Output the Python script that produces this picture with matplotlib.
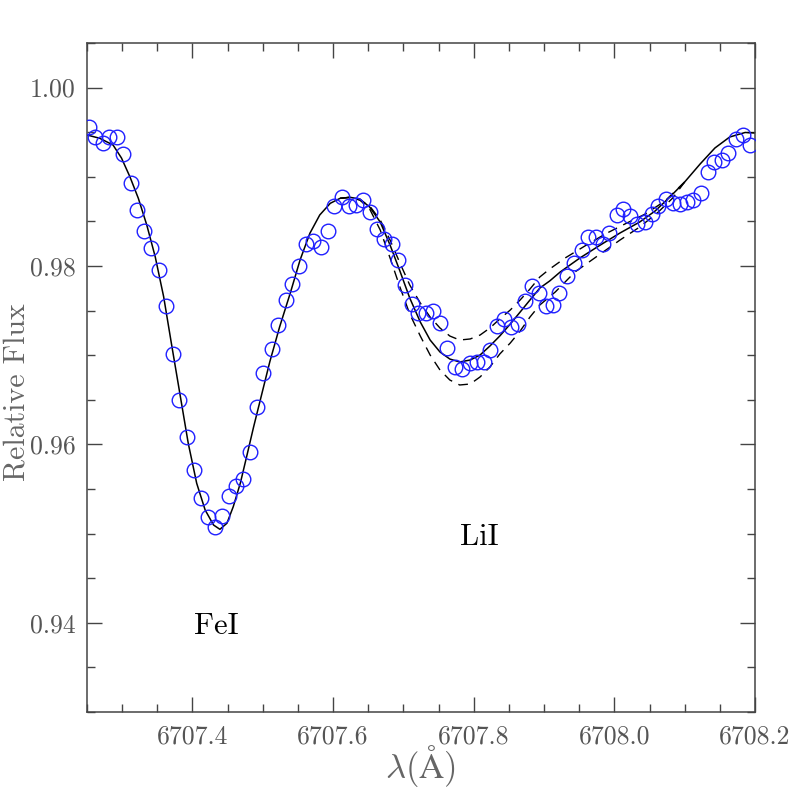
import matplotlib
matplotlib.use("Agg")
import matplotlib.pyplot as plt
from matplotlib.ticker import FixedLocator, MultipleLocator, FixedFormatter

# ---- observed spectrum (circles) ----
obs_wave = [6707.2533, 6707.2614, 6707.2723, 6707.2817, 6707.2922, 6707.3016, 6707.3122,
            6707.3215, 6707.3315, 6707.3415, 6707.3520, 6707.3624, 6707.3727, 6707.3813,
            6707.3918, 6707.4017, 6707.4117, 6707.4221, 6707.4320, 6707.4420, 6707.4524,
            6707.4619, 6707.4723, 6707.4822, 6707.4914, 6707.5003, 6707.5127, 6707.5221,
            6707.5326, 6707.5420, 6707.5519, 6707.5615, 6707.5718, 6707.5828, 6707.5932,
            6707.6017, 6707.6120, 6707.6226, 6707.6326, 6707.6430, 6707.6525, 6707.6620,
            6707.6728, 6707.6833, 6707.6919, 6707.7023, 6707.7126, 6707.7212, 6707.7317,
            6707.7425, 6707.7520, 6707.7616, 6707.7734, 6707.7838, 6707.7947, 6707.8051,
            6707.8146, 6707.8231, 6707.8327, 6707.8431, 6707.8530, 6707.8634, 6707.8729,
            6707.8824, 6707.8931, 6707.9031, 6707.9132, 6707.9217, 6707.9331, 6707.9426,
            6707.9536, 6707.9629, 6707.9739, 6707.9834, 6707.9928, 6708.0033, 6708.0127,
            6708.0223, 6708.0326, 6708.0436, 6708.0531, 6708.0625, 6708.0730, 6708.0830,
            6708.0934, 6708.1029, 6708.1123, 6708.1228, 6708.1328, 6708.1417, 6708.1527,
            6708.1621, 6708.1730, 6708.1825, 6708.1929]
obs_flux = [0.99555, 0.99443, 0.99382, 0.99450, 0.99450, 0.99259, 0.98934,
            0.98628, 0.98396, 0.98202, 0.97955, 0.97552, 0.97013, 0.96501,
            0.96080, 0.95710, 0.95402, 0.95189, 0.95077, 0.95197, 0.95421,
            0.95534, 0.95609, 0.95918, 0.96416, 0.96806, 0.97069, 0.97342,
            0.97619, 0.97802, 0.97997, 0.98243, 0.98280, 0.98216, 0.98389,
            0.98669, 0.98770, 0.98673, 0.98684, 0.98740, 0.98609, 0.98411,
            0.98306, 0.98247, 0.98067, 0.97790, 0.97574, 0.97470, 0.97470,
            0.97499, 0.97358, 0.97077, 0.96871, 0.96845, 0.96916, 0.96927,
            0.96927, 0.97058, 0.97331, 0.97402, 0.97319, 0.97350, 0.97608,
            0.97776, 0.97694, 0.97557, 0.97563, 0.97701, 0.97891, 0.98037,
            0.98179, 0.98328, 0.98328, 0.98247, 0.98367, 0.98572, 0.98636,
            0.98560, 0.98471, 0.98497, 0.98583, 0.98673, 0.98751, 0.98710,
            0.98692, 0.98721, 0.98740, 0.98822, 0.99050, 0.99169, 0.99188,
            0.99270, 0.99420, 0.99469, 0.99356]

# ---- best-fit synthetic spectrum (solid) ----
fit_wave = [6707.250, 6707.268, 6707.287, 6707.299, 6707.311, 6707.323, 6707.335,
            6707.347, 6707.359, 6707.370, 6707.382, 6707.394, 6707.406, 6707.418,
            6707.430, 6707.439, 6707.449, 6707.458, 6707.468, 6707.477, 6707.487,
            6707.500, 6707.510, 6707.524, 6707.539, 6707.553, 6707.567, 6707.581,
            6707.596, 6707.610, 6707.624, 6707.638, 6707.652, 6707.667, 6707.681,
            6707.695, 6707.709, 6707.724, 6707.738, 6707.752, 6707.766, 6707.780,
            6707.795, 6707.809, 6707.823, 6707.837, 6707.852, 6707.866, 6707.880,
            6707.894, 6707.908, 6707.923, 6707.951, 6707.980, 6708.008, 6708.036,
            6708.058, 6708.079, 6708.100, 6708.122, 6708.143, 6708.164, 6708.186,
            6708.200]
fit_flux = [0.99469, 0.99432, 0.99357, 0.99211, 0.99001, 0.98759, 0.98460,
            0.98104, 0.97656, 0.97133, 0.96573, 0.96012, 0.95564, 0.95265,
            0.95096, 0.95048, 0.95116, 0.95302, 0.95564, 0.95862, 0.96198,
            0.96610, 0.96927, 0.97319, 0.97694, 0.98067, 0.98367, 0.98572,
            0.98703, 0.98759, 0.98770, 0.98751, 0.98661, 0.98493, 0.98235,
            0.97944, 0.97641, 0.97372, 0.97170, 0.97036, 0.96957, 0.96924,
            0.96946, 0.97002, 0.97103, 0.97215, 0.97350, 0.97484, 0.97619,
            0.97753, 0.97832, 0.97933, 0.98090, 0.98235, 0.98370, 0.98493,
            0.98617, 0.98774, 0.98942, 0.99144, 0.99323, 0.99446, 0.99497,
            0.99491]

# ---- synthetic spectra with lower / higher Li abundance (dashed) ----
lowLi_wave = [6707.610, 6707.624, 6707.638, 6707.652, 6707.667, 6707.681, 6707.695,
              6707.709, 6707.724, 6707.738, 6707.752, 6707.766, 6707.780, 6707.795,
              6707.809, 6707.823, 6707.837, 6707.852, 6707.866, 6707.880, 6707.894,
              6707.908, 6707.930, 6707.958, 6707.987, 6708.015, 6708.044, 6708.072,
              6708.100]
lowLi_flux = [0.98759, 0.98770, 0.98740, 0.98673, 0.98516, 0.98291, 0.98034,
              0.97787, 0.97585, 0.97428, 0.97305, 0.97215, 0.97170, 0.97182,
              0.97226, 0.97305, 0.97406, 0.97507, 0.97619, 0.97742, 0.97877,
              0.97966, 0.98090, 0.98224, 0.98359, 0.98471, 0.98583, 0.98729,
              0.98942]
highLi_wave = [6707.610, 6707.624, 6707.638, 6707.652, 6707.667, 6707.681, 6707.695,
               6707.709, 6707.724, 6707.738, 6707.752, 6707.766, 6707.780, 6707.795,
               6707.809, 6707.823, 6707.837, 6707.852, 6707.866, 6707.880, 6707.894,
               6707.916, 6707.944, 6707.972, 6708.008, 6708.036, 6708.061, 6708.083,
               6708.100]
highLi_flux = [0.98759, 0.98770, 0.98740, 0.98639, 0.98404, 0.98090, 0.97765,
               0.97462, 0.97215, 0.97002, 0.96834, 0.96722, 0.96666, 0.96677,
               0.96756, 0.96868, 0.97013, 0.97137, 0.97271, 0.97428, 0.97563,
               0.97709, 0.97933, 0.98090, 0.98291, 0.98437, 0.98594, 0.98762,
               0.98942]

xtick_vals = [6707.4, 6707.6, 6707.8, 6708.0, 6708.2]
xtick_labels = ["6707.4", "6707.6", "6707.8", "6708.0", "6708.2"]
ytick_vals = [0.94, 0.96, 0.98, 1.00]
ytick_labels = ["0.94", "0.96", "0.98", "1.00"]
line_labels = ["FeI", "LiI"]
line_label_pos = [(6707.4335, 0.93874), (6707.8075, 0.94872)]

plt.rcParams["mathtext.fontset"] = "cm"
FONT = "cmr10"
AXC = "#444444"

fig = plt.figure(figsize=(7.97, 7.97), dpi=100)
ax = fig.add_axes([87 / 797, 85 / 797, 668 / 797, 669 / 797])

ax.plot(fit_wave, fit_flux, color="black", lw=1.1, zorder=2)
ax.plot(lowLi_wave, lowLi_flux, color="black", lw=1.0, ls=(0, (7, 5)), zorder=2)
ax.plot(highLi_wave, highLi_flux, color="black", lw=1.0, ls=(0, (7, 5)), zorder=2)
ax.plot(obs_wave, obs_flux, ls="none", marker="o", ms=10.5, mfc="none",
        mec="#1f1fff", mew=1.0, zorder=3)

ax.set_xlim(6707.25, 6708.2)
ax.set_ylim(0.93, 1.005)

ax.xaxis.set_major_locator(FixedLocator(xtick_vals))
ax.xaxis.set_major_formatter(FixedFormatter(xtick_labels))
ax.xaxis.set_minor_locator(MultipleLocator(0.05))
ax.yaxis.set_major_locator(FixedLocator(ytick_vals))
ax.yaxis.set_major_formatter(FixedFormatter(ytick_labels))
ax.yaxis.set_minor_locator(MultipleLocator(0.005))

ax.tick_params(which="both", direction="in", top=True, right=True,
               color=AXC, width=1.0)
ax.tick_params(which="major", length=10.5)
ax.tick_params(axis="x", which="major", pad=9)
ax.tick_params(axis="y", which="major", pad=8)
ax.tick_params(which="minor", length=5.5)
for lab in ax.get_xticklabels() + ax.get_yticklabels():
    lab.set_fontfamily(FONT)
    lab.set_fontsize(18.5)
    lab.set_color("#555555")
for s in ax.spines.values():
    s.set_color(AXC)
    s.set_linewidth(1.1)

ax.set_xlabel(r"$\lambda(\mathrm{\AA})$", fontsize=25, color="#666666")
ax.set_ylabel("Relative Flux", fontfamily=FONT, fontsize=21.5, color="#666666")
ax.xaxis.set_label_coords(0.4985, -0.08)
ax.xaxis.label.set_va("center")
ax.yaxis.set_label_coords(-0.105, 0.478)
ax.yaxis.label.set_va("center")

for txt, (xw, yf) in zip(line_labels, line_label_pos):
    ax.text(xw, yf, txt, fontfamily=FONT, fontsize=22, color="black",
            ha="center", va="baseline")

fig.savefig("out.png", dpi=100)
